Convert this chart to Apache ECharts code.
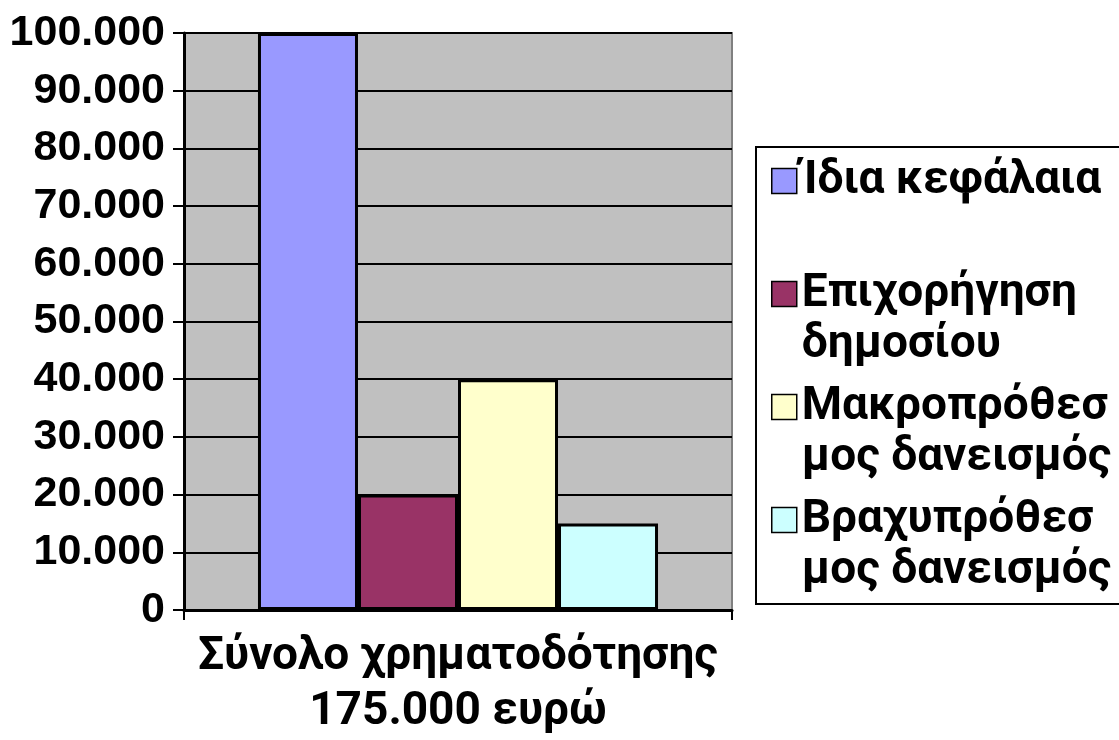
<!DOCTYPE html>
<html>
<head>
<meta charset="utf-8">
<title>Σύνολο χρηματοδότησης</title>
<script src="https://cdn.jsdelivr.net/npm/echarts@6/dist/echarts.min.js"></script>
<style>
  html, body { margin: 0; padding: 0; background: #ffffff; }
  #chart { width: 1119px; height: 740px; }
</style>
</head>
<body>
<div id="chart"></div>
<script>
// Funding sources of the investment (euro)
const categories = ['Σύνολο χρηματοδότησης\n175.000 ευρώ'];
const seriesNames = ['Ίδια κεφάλαια', 'Επιχορήγηση δημοσίου', 'Μακροπρόθεσμος δανεισμός', 'Βραχυπρόθεσμος δανεισμός'];
const legendLabels = ['Ίδια κεφάλαια', 'Επιχορήγηση\nδημοσίου', 'Μακροπρόθεσ\nμος δανεισμός', 'Βραχυπρόθεσ\nμος δανεισμός'];
const ownFunds = [100000];
const publicGrant = [20000];
const longTermLoan = [40000];
const shortTermLoan = [15000];
const yTickLabels = ['0', '10.000', '20.000', '30.000', '40.000', '50.000', '60.000', '70.000', '80.000', '90.000', '100.000'];

const seriesValues = [ownFunds, publicGrant, longTermLoan, shortTermLoan];
const colors = ['#9999FF', '#993366', '#FFFFCC', '#CCFFFF'];

const NUM_FONT = "'Liberation Sans', Arial, sans-serif";
// Greek labels use a face with a true bold Greek set.
const GREEK_FONT = "Roboto, 'Noto Sans', sans-serif";
const FS = 43;
const X_FS = 46;
const LEG_FS = 46;
const LH = 51;

const boldText = (family, size, lh) => ({
  fontFamily: family,
  fontSize: size,
  fontWeight: 'bold',
  color: '#000000',
  lineHeight: lh
});

const chart = echarts.init(document.getElementById('chart'), null, { renderer: 'canvas' });

// One legend block per entry so each sits at its own row in the framed box.
// Two-line labels get a leading empty line, so that their first line is the
// middle one and stays level with the swatch.
const legendRowCenters = [181, 294, 407, 520];
const legends = seriesNames.map((name, i) => {
  const lines = legendLabels[i].split('\n');
  const multi = lines.length > 1;
  const text = (multi ? '\n' : '') + lines.map(s => '{t|' + s + '}').join('\n');
  const blockHalf = multi ? LH * 1.5 : LH * 0.5;
  return {
    show: true,
    orient: 'vertical',
    left: 771,
    top: legendRowCenters[i] - blockHalf,
    padding: 0,
    itemGap: 0,
    itemWidth: 25,
    itemHeight: 25,
    selectedMode: false,
    icon: 'rect',
    itemStyle: { borderColor: '#000000', borderWidth: 1.5 },
    formatter: () => text,
    data: [name],
    textStyle: Object.assign(boldText(GREEK_FONT, LEG_FS, LH), {
      backgroundColor: 'rgba(255,255,255,0)',
      rich: { t: boldText(GREEK_FONT, LEG_FS, LH) }
    })
  };
});

const option = {
  backgroundColor: '#ffffff',
  animation: false,
  grid: {
    left: 184,
    top: 33,
    width: 548,
    height: 584,
    show: true,
    backgroundColor: '#C0C0C0',
    borderColor: '#808080',
    borderWidth: 2
  },
  legend: legends,
  graphic: [{
    type: 'rect',
    z: -1,
    shape: { x: 756, y: 147, width: 500, height: 457 },
    style: { fill: '#ffffff', stroke: '#000000', lineWidth: 2 }
  }],
  xAxis: {
    type: 'category',
    data: categories,
    boundaryGap: true,
    axisLine: { show: true, lineStyle: { color: '#000000', width: 3 } },
    axisTick: { show: true, length: 10, lineStyle: { color: '#000000', width: 2 } },
    axisLabel: Object.assign(boldText(GREEK_FONT, X_FS, 55), {
      margin: 20,
      align: 'center',
      formatter: (v) => v.split('\n').map(s => '{b|' + s + '}').join('\n'),
      rich: { b: boldText(GREEK_FONT, X_FS, 55) }
    }),
    splitLine: { show: false }
  },
  yAxis: {
    type: 'value',
    min: 0,
    max: 100000,
    interval: 10000,
    axisLine: { show: true, lineStyle: { color: '#000000', width: 3 } },
    axisTick: { show: true, length: 11, lineStyle: { color: '#000000', width: 2 } },
    axisLabel: Object.assign(boldText(NUM_FONT, FS, FS), {
      margin: 19,
      formatter: (v) => yTickLabels[Math.round(v / 10000)]
    }),
    splitLine: { show: true, lineStyle: { color: '#000000', width: 2 } }
  },
  series: seriesNames.map((name, i) => ({
    name: name,
    type: 'bar',
    data: seriesValues[i],
    barGap: '0%',
    barCategoryGap: '27%',
    itemStyle: { color: colors[i], borderColor: '#000000', borderWidth: 3 },
    emphasis: { disabled: true }
  }))
};

chart.setOption(option);
</script>
</body>
</html>
